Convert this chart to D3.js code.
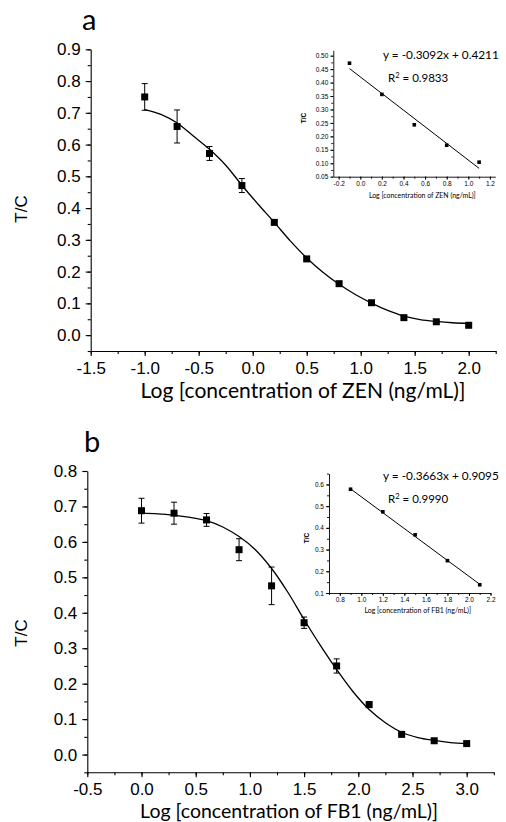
<!DOCTYPE html>
<html><head><meta charset="utf-8">
<script src="https://cdn.jsdelivr.net/npm/d3@7"></script>
<style>body{margin:0;background:#fff}svg{display:block}</style>
</head><body>
<svg id="c" width="506" height="822"></svg>
<script>
// ---- Data: panel a (ZEN) ----
const zenX   = [-1.0,-0.7,-0.4,-0.1,0.2,0.5,0.8,1.1,1.4,1.7,2.0];
const zenY   = [0.750,0.657,0.572,0.471,0.355,0.240,0.162,0.102,0.055,0.042,0.031];
const zenErr = [0.042,0.052,0.022,0.022,0.006,0.005,0.005,0.006,0.004,0.004,0.004];
const zenFitX = [-1.0,-0.85,-0.7,-0.55,-0.4,-0.25,-0.1,0.05,0.2,0.35,0.5,0.65,0.8,0.95,1.1,1.25,1.4,1.55,1.7,1.85,2.0];
const zenFitY = [0.710,0.695,0.668,0.627,0.585,0.535,0.472,0.412,0.355,0.296,0.243,0.198,0.160,0.128,0.101,0.078,0.060,0.049,0.043,0.039,0.037];
const zenInsetX = [-0.1,0.2,0.5,0.8,1.1];
const zenInsetY = [0.472,0.356,0.243,0.167,0.104];
const zenSlope = -0.3092, zenIntercept = 0.4211;
const zenEq = "y = -0.3092x + 0.4211", zenR2 = "0.9833";

// ---- Data: panel b (FB1) ----
const fbX   = [0,0.3,0.6,0.9,1.2,1.5,1.8,2.1,2.4,2.7,3.0];
const fbY   = [0.688,0.681,0.662,0.578,0.476,0.372,0.250,0.141,0.057,0.039,0.031];
const fbErr = [0.035,0.031,0.018,0.031,0.053,0.016,0.020,0.008,0.004,0.003,0.003];
const fbFitX = [0,0.15,0.3,0.45,0.6,0.75,0.9,1.05,1.2,1.35,1.5,1.65,1.8,1.95,2.1,2.25,2.4,2.55,2.7,2.85,3.0];
const fbFitY = [0.681,0.679,0.675,0.669,0.660,0.642,0.615,0.578,0.525,0.458,0.381,0.308,0.240,0.178,0.127,0.090,0.063,0.048,0.040,0.034,0.031];
const fbInsetX = [0.9,1.2,1.5,1.8,2.1];
const fbInsetY = [0.578,0.474,0.368,0.249,0.138];
const fbSlope = -0.3663, fbIntercept = 0.9095;
const fbEq = "y = -0.3663x + 0.9095", fbR2 = "0.9990";

// ---- Tick values ----
const mainYTicks = [0.0,0.1,0.2,0.3,0.4,0.5,0.6,0.7,0.8,0.9];
const zenXTicks = [-1.5,-1.0,-0.5,0.0,0.5,1.0,1.5,2.0];
const fbXTicks = [-0.5,0.0,0.5,1.0,1.5,2.0,2.5,3.0];
const zenInsetYTicks = [0.05,0.10,0.15,0.20,0.25,0.30,0.35,0.40,0.45,0.50];
const zenInsetXTicks = [-0.2,0.0,0.2,0.4,0.6,0.8,1.0,1.2];
const fbInsetYTicks = [0.1,0.2,0.3,0.4,0.5,0.6];
const fbInsetXTicks = [0.8,1.0,1.2,1.4,1.6,1.8,2.0,2.2];

const svg = d3.select("#c");
const ARIAL = "'Liberation Sans', Arial, sans-serif";
const CAL = "Lato, 'Open Sans', sans-serif";

function fmt(n){ return d => d.toFixed(n); }
function range(a,b,s){ const r=[]; for(let v=a; v<=b+1e-9; v+=s) r.push(+v.toFixed(4)); return r; }

function fitText(t, target){
  const w = t.node().getComputedTextLength();
  const fs = parseFloat(t.attr("font-size"));
  t.attr("font-size", fs*target/w);
}

function panel(o){
  const g = svg.append("g");
  const x = d3.scaleLinear().domain(o.xd).range(o.xr);
  const y = d3.scaleLinear().domain(o.yd).range(o.yr);
  g.append("g").attr("transform",`translate(${o.xr[0]},0)`)
    .call(d3.axisLeft(y).tickValues(o.yMinor).tickSize(o.minorLen).tickFormat(""))
    .call(s=>s.select(".domain").remove());
  g.append("g").attr("transform",`translate(0,${o.yr[0]})`)
    .call(d3.axisBottom(x).tickValues(o.xMinor).tickSize(o.minorLen).tickFormat(""))
    .call(s=>s.select(".domain").remove());
  g.append("g").attr("transform",`translate(${o.xr[0]},0)`)
    .call(d3.axisLeft(y).tickValues(o.yTicks).tickSize(o.majorLen).tickSizeOuter(0).tickPadding(o.yPad).tickFormat(fmt(o.yDec)));
  g.append("g").attr("transform",`translate(0,${o.yr[0]})`)
    .call(d3.axisBottom(x).tickValues(o.xTicks).tickSize(o.majorLen).tickSizeOuter(0).tickPadding(o.xPad).tickFormat(fmt(o.xDec)));
  g.selectAll(".tick line,.domain").attr("stroke","#000").attr("stroke-width",o.axisW);
  g.selectAll(".tick text").attr("font-family",ARIAL).attr("font-size",o.tickFs).attr("fill","#000");
  return {g,x,y};
}

function mainPanel(o){
  const p = panel(Object.assign({yMinor:range(-0.05,o.yd[1],0.05), xMinor:range(o.xd[0],o.xd[1],0.25),
    minorLen:3, majorLen:5, yPad:5, xPad:6, yDec:1, xDec:1, axisW:1.1, tickFs:17}, o));
  const {g,x,y} = p;
  const line = d3.line().x(d=>x(d[0])).y(d=>y(d[1])).curve(d3.curveCatmullRom.alpha(0.5));
  g.append("path").datum(o.fitX.map((v,i)=>[v,o.fitY[i]])).attr("d",line)
    .attr("fill","none").attr("stroke","#000").attr("stroke-width",1.3);
  const pts = o.px.map((v,i)=>({x:v,y:o.py[i],e:o.pe[i]}));
  const eb = g.append("g").attr("stroke","#000").attr("stroke-width",1);
  pts.forEach(d=>{
    const cx=x(d.x), t=y(d.y+d.e), b=y(d.y-d.e);
    eb.append("line").attr("x1",cx).attr("x2",cx).attr("y1",t).attr("y2",b);
    eb.append("line").attr("x1",cx-3).attr("x2",cx+3).attr("y1",t).attr("y2",t);
    eb.append("line").attr("x1",cx-3).attr("x2",cx+3).attr("y1",b).attr("y2",b);
  });
  g.append("g").selectAll("rect").data(pts).join("rect")
    .attr("x",d=>x(d.x)-3.5).attr("y",d=>y(d.y)-3.5).attr("width",7).attr("height",7).attr("fill","#000");
  g.append("text").attr("transform",`translate(27,${o.ylabY}) rotate(-90)`).attr("text-anchor","middle")
    .attr("font-family",ARIAL).attr("font-size",17).text("T/C");
  const xt = g.append("text").attr("x",o.xlabX).attr("y",o.yr[0]+o.titleOff).attr("text-anchor","middle")
    .attr("font-family",CAL).attr("font-size",17).text(o.xlab);
  fitText(xt,o.xlabW);
  g.append("text").attr("x",o.letterX).attr("y",o.letterY).attr("font-family",CAL).attr("font-size",29).text(o.letter);
  return p;
}

function inset(o){
  const p = panel(Object.assign({minorLen:2, majorLen:3, yPad:2, xPad:1.5, axisW:0.9, tickFs:6.5}, o));
  const {g,x,y} = p;
  const x0 = o.px[0], x1 = o.px[o.px.length-1];
  g.append("line").attr("x1",x(x0)).attr("y1",y(o.slope*x0+o.intercept))
    .attr("x2",x(x1)).attr("y2",y(o.slope*x1+o.intercept)).attr("stroke","#000").attr("stroke-width",1);
  g.append("g").selectAll("rect").data(o.px.map((v,i)=>[v,o.py[i]])).join("rect")
    .attr("x",d=>x(d[0])-1.8).attr("y",d=>y(d[1])-1.8).attr("width",3.6).attr("height",3.6).attr("fill","#000");
  g.append("text").attr("transform",`translate(${o.ylabX},${o.ylabY}) rotate(-90)`).attr("text-anchor","middle")
    .attr("font-family",ARIAL).attr("font-weight","bold").attr("font-size",6.5).text("T/C");
  const xt = g.append("text").attr("x",(o.xr[0]+o.xr[1])/2+8).attr("y",o.yr[0]+o.titleOff).attr("text-anchor","middle")
    .attr("font-family",CAL).attr("font-size",6.5).text(o.xlab);
  fitText(xt,107);
  const eq = g.append("text").attr("x",383).attr("y",o.eqY).attr("font-family",CAL).attr("font-size",11.5).text(o.eq);
  fitText(eq,116);
  const r = g.append("text").attr("x",388).attr("y",o.eqY+22.5).attr("font-family",CAL).attr("font-size",11.5);
  r.append("tspan").text("R");
  r.append("tspan").attr("dy",-4).attr("font-size",7.5).text("2");
  r.append("tspan").attr("dy",4).text(" = "+o.r2);
}

mainPanel({xd:[-1.5,2.25], xr:[90.7,495.7], yd:[-0.05,0.9], yr:[351,49.3],
  yTicks:mainYTicks, xTicks:zenXTicks, fitX:zenFitX, fitY:zenFitY, px:zenX, py:zenY, pe:zenErr, titleOff:47,
  xlab:"Log [concentration of ZEN (ng/mL)]", xlabX:303, xlabW:325, ylabY:209, letter:"a", letterX:82, letterY:30});

mainPanel({xd:[-0.5,3.25], xr:[87.3,493.8], yd:[-0.05,0.8], yr:[772.3,471],
  yTicks:mainYTicks.filter(v=>v<=0.8), xTicks:fbXTicks, fitX:fbFitX, fitY:fbFitY, px:fbX, py:fbY, pe:fbErr, titleOff:46,
  xlab:"Log [concentration of FB1 (ng/mL)]", xlabX:289, xlabW:298, ylabY:633, letter:"b", letterX:84, letterY:452});

inset({xd:[-0.25,1.25], xr:[333.3,495.3], yd:[0.05,0.52], yr:[176.7,50.3],
  yTicks:zenInsetYTicks, xTicks:zenInsetXTicks, yMinor:range(0.05,0.52,0.025), xMinor:range(-0.2,1.2,0.1),
  yDec:2, xDec:1, px:zenInsetX, py:zenInsetY, slope:zenSlope, intercept:zenIntercept, titleOff:21,
  xlab:"Log [concentration of ZEN (ng/mL)]", ylabX:306, ylabY:118, eq:zenEq, r2:zenR2, eqY:59});

inset({xd:[0.7,2.2], xr:[329,490.5], yd:[0.1,0.65], yr:[593,473.6],
  yTicks:fbInsetYTicks, xTicks:fbInsetXTicks, yMinor:range(0.1,0.65,0.05), xMinor:range(0.7,2.2,0.1),
  yDec:1, xDec:1, px:fbInsetX, py:fbInsetY, slope:fbSlope, intercept:fbIntercept, titleOff:20,
  xlab:"Log [concentration of FB1 (ng/mL)]", ylabX:309, ylabY:538, eq:fbEq, r2:fbR2, eqY:480});
</script>
</body></html>
